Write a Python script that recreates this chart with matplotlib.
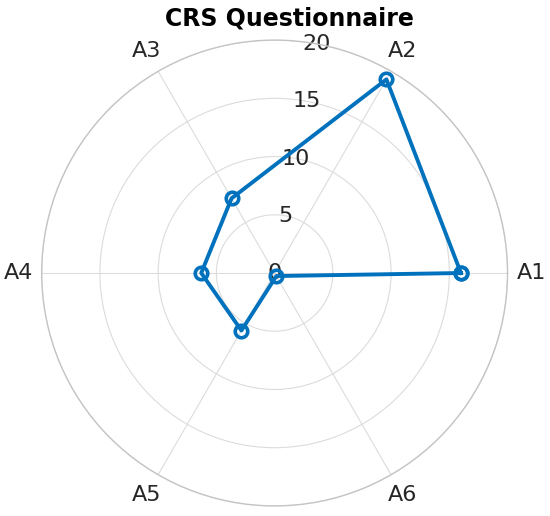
import numpy as np
import matplotlib
matplotlib.use("Agg")
import matplotlib.pyplot as plt

categories = ["A1", "A2", "A3", "A4", "A5", "A6"]
values = [16.0, 19.2, 7.4, 6.3, 5.7, 0.3]
r_ticks = [0, 5, 10, 15, 20]
r_tick_labels = ["0", "5", "10", "15", "20"]
title = "CRS Questionnaire"

plt.rcParams['font.family'] = ['DejaVu Sans']
fig = plt.figure(figsize=(5.5, 5.16), dpi=100)
ax = fig.add_axes([0.0758, 0.0194, 0.847, 0.903], projection='polar')

angles = np.deg2rad(np.arange(len(categories)) * 360.0 / len(categories))
theta = np.concatenate([angles, angles[:1]])
rvals = np.concatenate([values, values[:1]])

ax.plot(theta, rvals, color='#0072BD', lw=2.8, marker='o', ms=9,
        mfc='none', mec='#0072BD', mew=2.6, zorder=5)

ax.set_ylim(0, 20)
ax.set_yticks(r_ticks)
ax.set_yticklabels(r_tick_labels, color='#262626', fontsize=16)
ax.set_rlabel_position(79.5)
for lab in ax.get_yticklabels():
    lab.set_ha('center')
    lab.set_va('center')
ax.set_xticks(angles)
ax.set_xticklabels(categories, color='#262626', fontsize=16)
ax.tick_params(axis='x', pad=6.5)
ax.grid(True, color='#dcdcdc', lw=0.8)
ax.spines['polar'].set_color('#c4c4c4')
ax.spines['polar'].set_linewidth(1.0)

fig.text(0.527, 0.965, title, ha='center', va='center', fontsize=17, fontweight='bold', color='black')

fig.savefig('out.png', dpi=100)
